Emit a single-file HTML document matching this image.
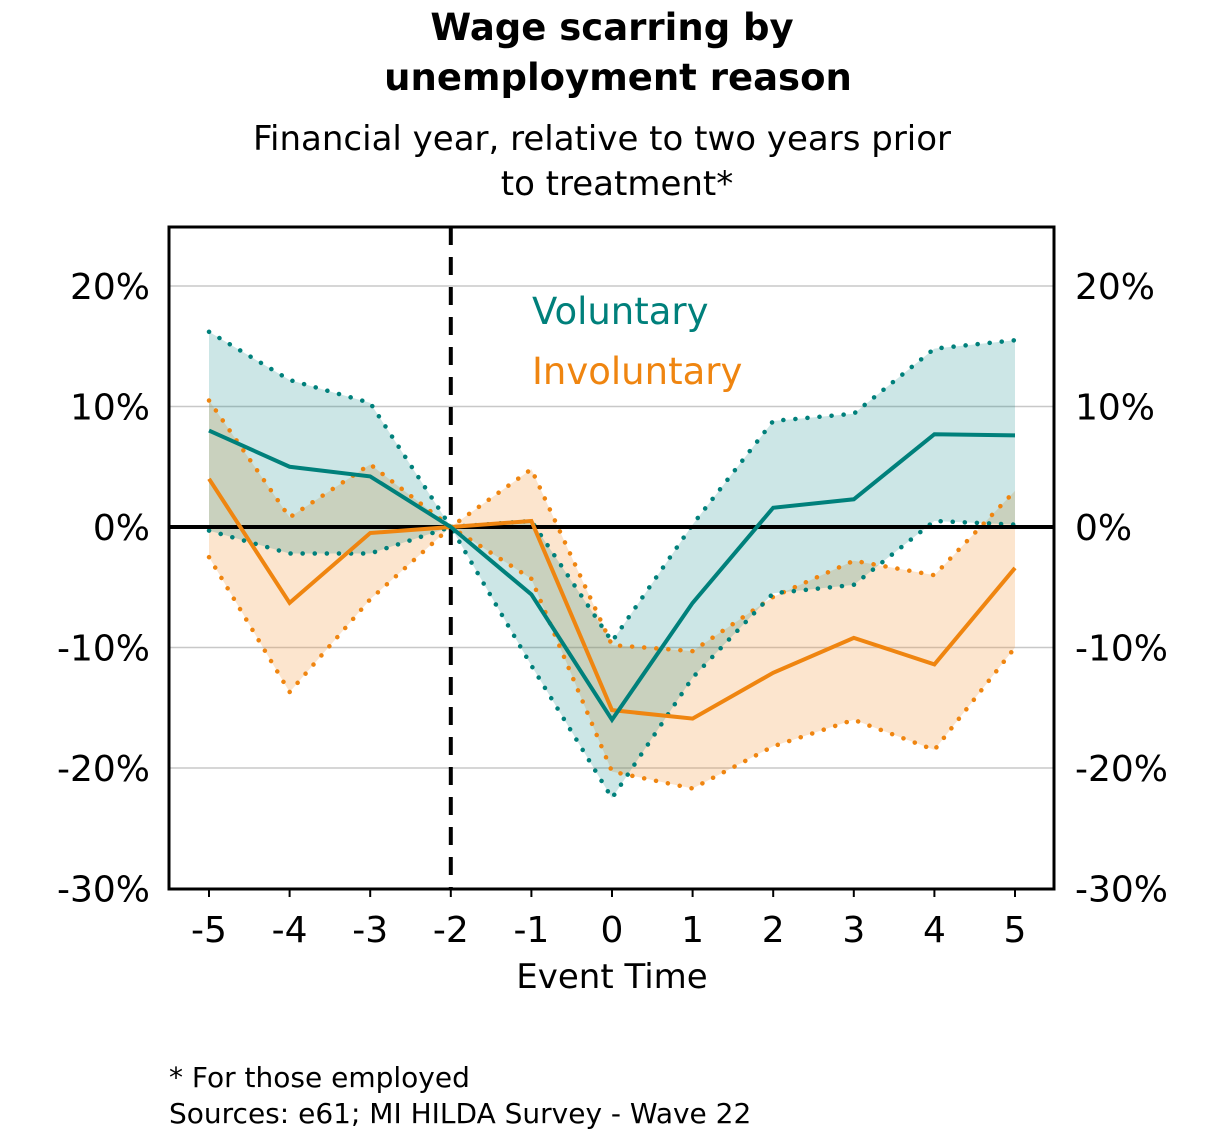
<!DOCTYPE html>
<html><head><meta charset="utf-8"><style>
body{margin:0;background:#fff;font-family:"Liberation Sans","DejaVu Sans",sans-serif;}
</style></head><body>
<svg width="1225" height="1133" xmlns="http://www.w3.org/2000/svg" id="svg" font-family="DejaVu Sans, Liberation Sans, sans-serif">
<text x="612" y="40" text-anchor="middle" font-size="37" font-weight="bold">Wage scarring by</text>
<text x="618" y="90" text-anchor="middle" font-size="37" font-weight="bold">unemployment reason</text>
<text x="602" y="150" text-anchor="middle" font-size="34">Financial year, relative to two years prior</text>
<text x="617" y="195" text-anchor="middle" font-size="34">to treatment*</text>
<g id="plot"></g>
<text x="612" y="988" text-anchor="middle" font-size="34">Event Time</text>
<text x="169" y="1087" font-size="28">* For those employed</text>
<text x="169" y="1123" font-size="28">Sources: e61; MI HILDA Survey - Wave 22</text>
</svg>
<script>
const xCats=[-5,-4,-3,-2,-1,0,1,2,3,4,5];
const volMain=[8.0,5.0,4.2,0,-5.6,-16.0,-6.3,1.6,2.3,7.7,7.6];
const volUpper=[16.2,12.2,10.3,0,0.5,-9.5,0.2,8.8,9.4,14.8,15.5];
const volLower=[-0.3,-2.2,-2.2,0,-11.5,-22.5,-12.5,-5.5,-4.8,0.5,0.2];
const invMain=[4.0,-6.3,-0.5,0,0.5,-15.2,-15.9,-12.1,-9.2,-11.4,-3.4];
const invUpper=[10.5,0.8,5.2,0,4.8,-9.8,-10.3,-5.8,-2.8,-4.0,3.0];
const invLower=[-2.5,-13.7,-6.0,0,-4.3,-20.3,-21.7,-18.2,-16.0,-18.5,-10.0];
const yTicks=[20,10,0,-10,-20,-30];
const L=169,R=1054,T=227,B=889;
const X=v=>209+(v+5)*80.6;
const Y=v=>527-v*12.05;
const NS="http://www.w3.org/2000/svg";
const g=document.getElementById('plot');
function mk(tag,attrs){const e=document.createElementNS(NS,tag);for(const k in attrs)e.setAttribute(k,attrs[k]);g.appendChild(e);return e;}
yTicks.forEach(t=>{
 if(t!==0&&t!==-30){const l=mk('line',{x1:L,x2:R,y1:Y(t),y2:Y(t),stroke:'#c8c8c8','stroke-width':1.5});
 
 }
 const a=mk('text',{x:150,y:Y(t)+13,'text-anchor':'end','font-size':36});a.textContent=t+'%';
 
 
 const b=mk('text',{x:1075,y:Y(t)+13,'font-size':36});b.textContent=t+'%';
 
 
});
xCats.forEach(c=>{
 const tk=mk('line',{x1:X(c),x2:X(c),y1:B,y2:B+8,stroke:'#000','stroke-width':2});
 
 
 const t=mk('text',{x:X(c),y:942,'text-anchor':'middle','font-size':36});t.textContent=c;
 
 
});
function band(up,lo,fill,name){
 let d=xCats.map((c,i)=>(i?'L':'M')+X(c)+','+Y(up[i])).join('');
 for(let i=xCats.length-1;i>=0;i--)d+='L'+X(xCats[i])+','+Y(lo[i]);
 const p=mk('path',{d:d+'Z',fill:fill,stroke:'none'});
 
 
}
function line(vals,col,dash,name){
 const d=xCats.map((c,i)=>(i?'L':'M')+X(c)+','+Y(vals[i])).join('');
 const p=mk('path',{d:d,fill:'none',stroke:col,'stroke-width':dash?4.5:4,'stroke-dasharray':dash?'0.1 12':'none','stroke-linecap':dash?'round':'butt'});
 
 
}
const teal='#00807b',orange='#ef8510';
band(invUpper,invLower,'rgba(245,150,60,0.25)','involuntary-ci-band');
band(volUpper,volLower,'rgba(0,128,128,0.2)','voluntary-ci-band');
line(invUpper,orange,true,'involuntary-upper-bound');
line(invLower,orange,true,'involuntary-lower-bound');
line(volUpper,teal,true,'voluntary-upper-bound');
line(volLower,teal,true,'voluntary-lower-bound');
const z=mk('line',{x1:L,x2:R,y1:Y(0),y2:Y(0),stroke:'#000','stroke-width':4});


const v=mk('line',{x1:X(-2),x2:X(-2),y1:T,y2:B,stroke:'#000','stroke-width':4,'stroke-dasharray':'18 12'});


line(invMain,orange,false,'involuntary-line');
line(volMain,teal,false,'voluntary-line');
const fr=mk('rect',{x:L,y:T,width:R-L,height:B-T,fill:'none',stroke:'#000','stroke-width':3});


const lv=mk('text',{x:532,y:324,'font-size':37,fill:teal});lv.textContent='Voluntary';


const li=mk('text',{x:532,y:384,'font-size':37,fill:orange});li.textContent='Involuntary';


</script>
</body></html>
